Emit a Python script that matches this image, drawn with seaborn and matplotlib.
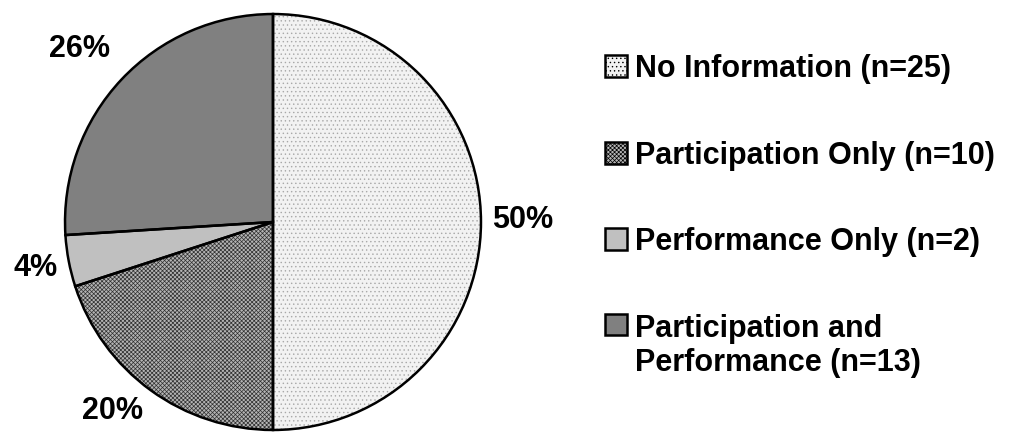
import numpy as np
import seaborn as sns
import matplotlib.pyplot as plt

categories = ["No Information (n=25)", "Participation Only (n=10)",
              "Performance Only (n=2)", "Participation and\nPerformance (n=13)"]
counts = [25, 10, 2, 13]
pct_labels = ["50%", "20%", "4%", "26%"]

sns.set_theme(style="white")
plt.rcParams['font.family'] = ['Liberation Sans', 'DejaVu Sans']
plt.rcParams['text.color'] = 'black'
plt.rcParams['hatch.linewidth'] = 0.5

face = ["#f2f2f2", "#b4b4b4", "#c0c0c0", "#808080"]
hatches = ["....", "xxxxxxxx", None, None]
hatch_col = ["#a8a8a8", "#303030", "#c0c0c0", "#808080"]

fig = plt.figure(figsize=(10.16, 4.32), dpi=100)
ax = fig.add_axes([0.064, 0.0046, 0.4094, 0.963])

wedges, _ = ax.pie(counts, startangle=90, counterclock=False, colors=face,
                   wedgeprops=dict(linewidth=0))
for w, h, hc in zip(wedges, hatches, hatch_col):
    w.set_clip_on(False)
    if h:
        w.set_hatch(h)
        w.set_edgecolor(hc)
# outlines on top
outl, _ = ax.pie(counts, startangle=90, counterclock=False,
                 wedgeprops=dict(edgecolor="black", linewidth=1.8, fill=False))
for w in outl:
    w.set_clip_on(False)

# label offsets (pie radius units), placed like the original outside labels
label_xy = [(1.20, 0.01), (-0.77, -0.91), (-1.14, -0.22), (-0.93, 0.83)]
for lab, (x, y) in zip(pct_labels, label_xy):
    ax.text(x, y, lab, ha="center", va="center", fontsize=22, fontweight="bold")
ax.set_xlim(-1, 1)
ax.set_ylim(-1, 1)
ax.set_aspect("equal")

leg_handles = []
for f, h in zip(face, hatches):
    leg_handles.append(plt.Rectangle((0, 0), 1, 1, facecolor=f, hatch=h,
                                     edgecolor="black", linewidth=1.8))
leg = fig.legend(leg_handles, categories, loc="upper left",
                 bbox_to_anchor=(0.5955, 0.875), frameon=False,
                 prop=dict(size=22, weight="bold"), handlelength=0.72,
                 handleheight=0.72, handletextpad=0.26, labelspacing=1.85,
                 borderpad=0, borderaxespad=0)
# align handle of the two-line entry with its first line
rows = leg._legend_handle_box.get_children()[0].get_children()
rows[-1].align = "top"

fig.savefig("out.png", dpi=100)
